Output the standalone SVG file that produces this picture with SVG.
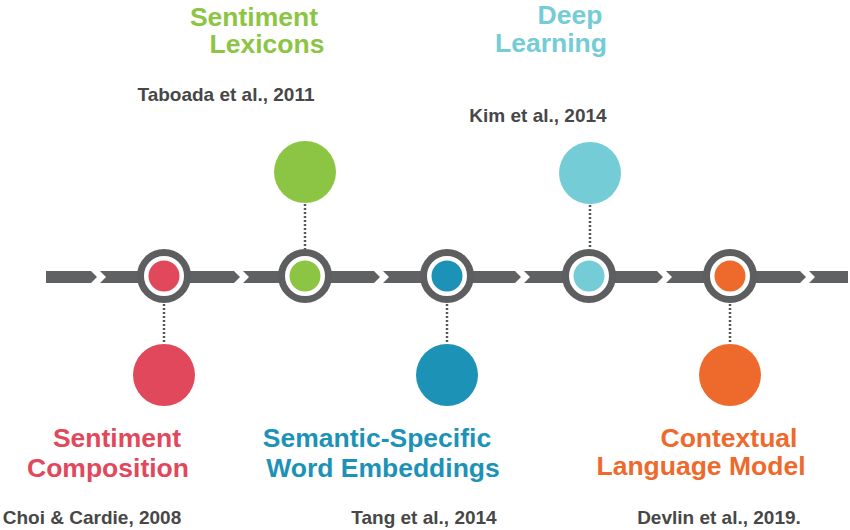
<svg xmlns="http://www.w3.org/2000/svg" width="850" height="530" viewBox="0 0 850 530">
  <style>
    .bar { fill: #5f6163; }
    .ring { fill: #ffffff; stroke: #5c5e60; stroke-width: 7; }
    .dot { stroke: #555759; stroke-width: 2.5; stroke-dasharray: 2 2; fill: none; }
    .h { font-family: "Liberation Sans", Arial, sans-serif; font-weight: bold; font-size: 26.5px; text-anchor: middle; }
    .ref { font-family: "Liberation Sans", Arial, sans-serif; font-weight: bold; font-size: 19px; fill: #474747; text-anchor: middle; }
    .red { fill: #e2485c; }
    .green { fill: #8cc543; }
    .blue { fill: #1c93b6; }
    .cyan { fill: #74ccd6; }
    .orange { fill: #ee6a2c; }
  </style>
  <rect width="850" height="530" fill="#ffffff"/>

  <g id="connectors">
    <path class="bar" d="M46,271 L91,271 L97,277 L91,283 L46,283 Z"/>
    <path class="bar" d="M100,271 L234,271 L240,277 L234,283 L100,283 L106,277 Z"/>
    <path class="bar" d="M243,271 L374,271 L380,277 L374,283 L243,283 L249,277 Z"/>
    <path class="bar" d="M383,271 L515,271 L521,277 L515,283 L383,283 L389,277 Z"/>
    <path class="bar" d="M524,271 L657,271 L663,277 L657,283 L524,283 L530,277 Z"/>
    <path class="bar" d="M666,271 L800,271 L806,277 L800,283 L666,283 L672,277 Z"/>
    <path class="bar" d="M809,271 L848,271 L848,283 L809,283 L815,277 Z"/>
    <line class="dot" x1="164" y1="304" x2="164" y2="344"/>
    <line class="dot" x1="305" y1="204" x2="305" y2="249"/>
    <line class="dot" x1="447" y1="304" x2="447" y2="344"/>
    <line class="dot" x1="590" y1="205" x2="590" y2="249"/>
    <line class="dot" x1="730" y1="304" x2="730" y2="344"/>
  </g>

  <g id="node-composition">
    <circle class="ring" cx="164" cy="276" r="23.5"/>
    <circle class="red" cx="164" cy="276" r="15.5"/>
    <circle class="red" cx="164" cy="375" r="31"/>
    <text class="h red" x="117" y="447">Sentiment</text>
    <text class="h red" x="108" y="477">Composition</text>
    <text class="ref" x="92" y="524">Choi &amp; Cardie, 2008</text>
  </g>

  <g id="node-lexicons">
    <circle class="ring" cx="305" cy="276" r="23.5"/>
    <circle class="green" cx="305" cy="276" r="15.5"/>
    <circle class="green" cx="305" cy="172" r="31"/>
    <text class="h green" x="254" y="26">Sentiment</text>
    <text class="h green" x="267" y="53">Lexicons</text>
    <text class="ref" x="226" y="101">Taboada et al., 2011</text>
  </g>

  <g id="node-embeddings">
    <circle class="ring" cx="447" cy="276" r="23.5"/>
    <circle class="blue" cx="447" cy="276" r="15.5"/>
    <circle class="blue" cx="447" cy="375" r="31"/>
    <text class="h blue" x="377" y="447">Semantic-Specific</text>
    <text class="h blue" x="383" y="477">Word Embeddings</text>
    <text class="ref" x="424" y="524">Tang et al., 2014</text>
  </g>

  <g id="node-deep">
    <circle class="ring" cx="589" cy="276" r="23.5"/>
    <circle class="cyan" cx="589" cy="276" r="15.5"/>
    <circle class="cyan" cx="590" cy="173" r="31"/>
    <text class="h cyan" x="570" y="24">Deep</text>
    <text class="h cyan" x="551" y="52">Learning</text>
    <text class="ref" x="538" y="122">Kim et al., 2014</text>
  </g>

  <g id="node-contextual">
    <circle class="ring" cx="730" cy="276" r="23.5"/>
    <circle class="orange" cx="730" cy="276" r="15.5"/>
    <circle class="orange" cx="730" cy="375" r="31"/>
    <text class="h orange" x="729" y="447">Contextual</text>
    <text class="h orange" x="701" y="475">Language Model</text>
    <text class="ref" x="719" y="524">Devlin et al., 2019.</text>
  </g>
</svg>
